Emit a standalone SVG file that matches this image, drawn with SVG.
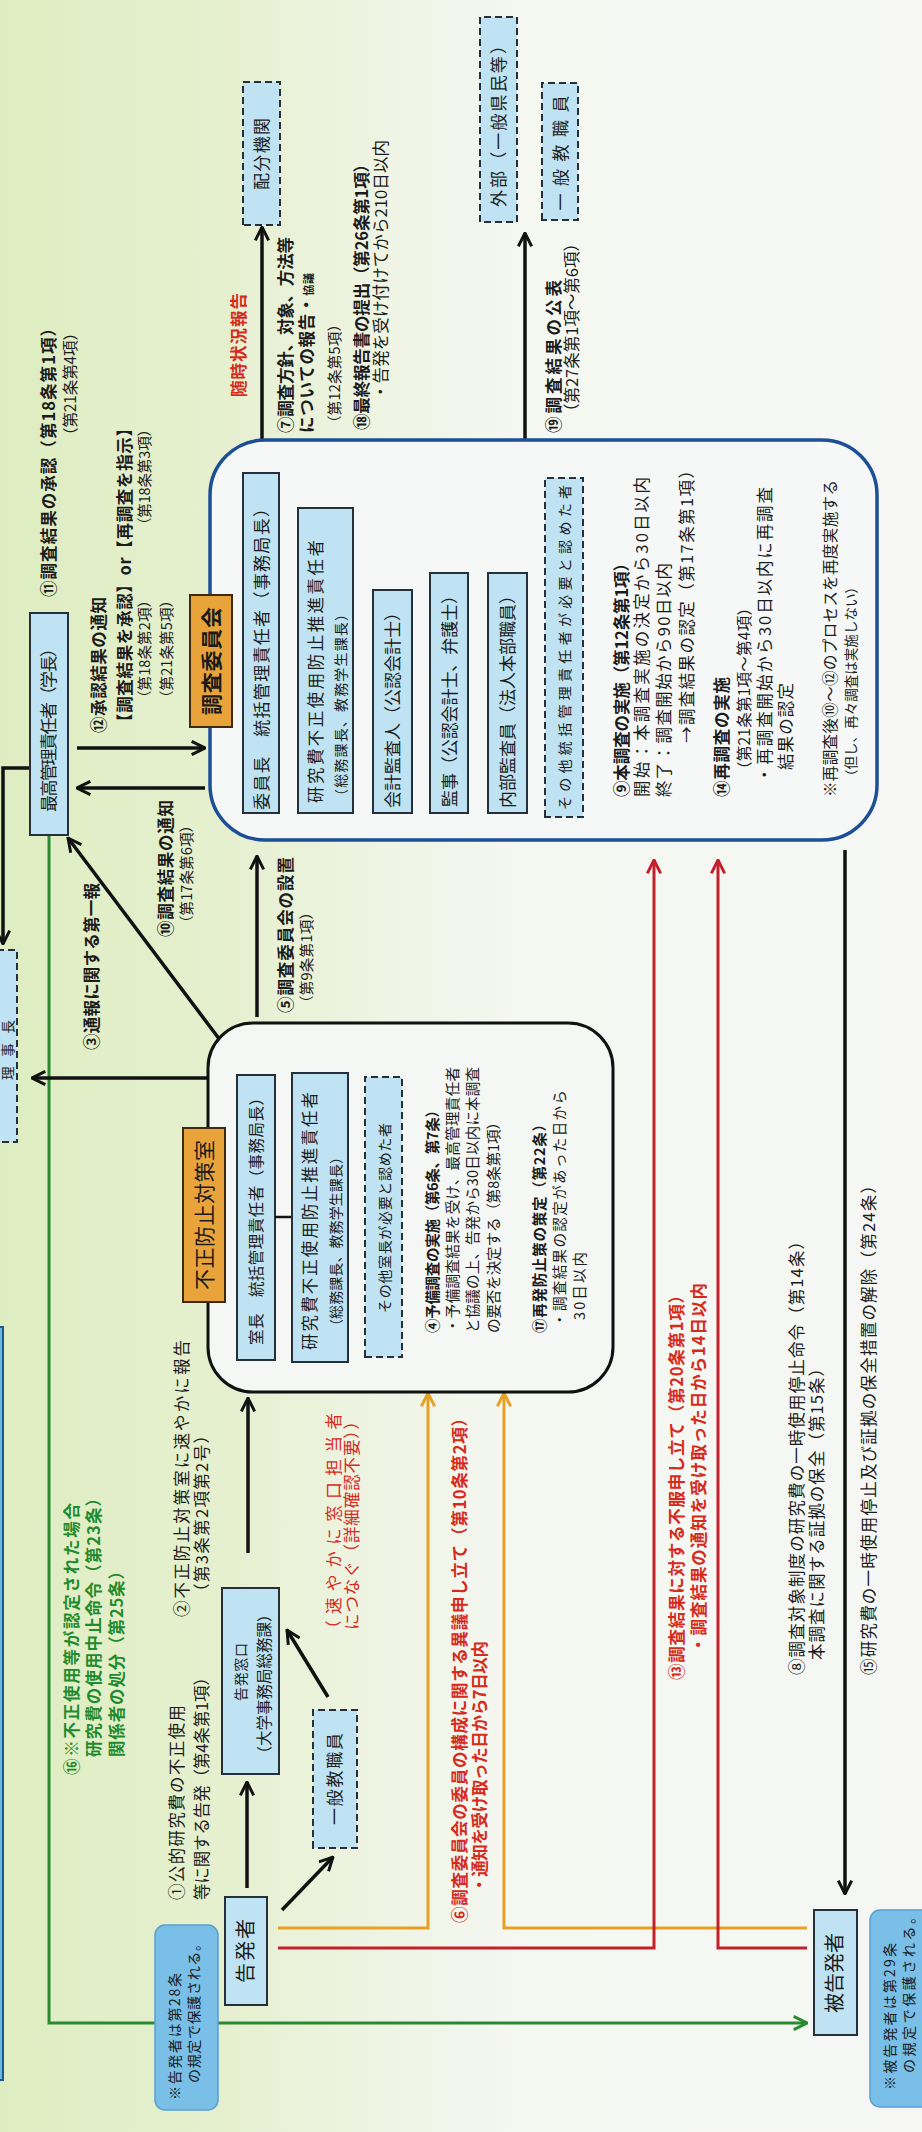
<svg xmlns="http://www.w3.org/2000/svg" width="922" height="2132" viewBox="0 0 922 2132">
<defs>
<linearGradient id="bg" gradientUnits="userSpaceOnUse" x1="0" y1="0" x2="922" y2="0">
<stop offset="0" stop-color="#deedc1"/>
<stop offset="0.25" stop-color="#e6f0d0"/>
<stop offset="0.42" stop-color="#eff4e4"/>
<stop offset="0.56" stop-color="#f5f7f1"/>
<stop offset="1" stop-color="#f6f7f5"/>
</linearGradient>
<marker id="ak" viewBox="0 0 12 12" refX="11" refY="6" markerWidth="16" markerHeight="16" markerUnits="userSpaceOnUse" orient="auto"><path d="M1,1 L11,6 L1,11" fill="none" stroke="#111" stroke-width="2.2"/></marker>
<marker id="ao" viewBox="0 0 12 12" refX="11" refY="6" markerWidth="16" markerHeight="16" markerUnits="userSpaceOnUse" orient="auto"><path d="M1,1 L11,6 L1,11" fill="none" stroke="#e6a024" stroke-width="2.2"/></marker>
<marker id="ar" viewBox="0 0 12 12" refX="11" refY="6" markerWidth="16" markerHeight="16" markerUnits="userSpaceOnUse" orient="auto"><path d="M1,1 L11,6 L1,11" fill="none" stroke="#c4202c" stroke-width="2.2"/></marker>
<marker id="ag" viewBox="0 0 12 12" refX="11" refY="6" markerWidth="16" markerHeight="16" markerUnits="userSpaceOnUse" orient="auto"><path d="M1,1 L11,6 L1,11" fill="none" stroke="#2a8a30" stroke-width="2.2"/></marker>
<style>
.t{font-family:"Noto Sans CJK JP","Noto Sans CJK SC",sans-serif;fill:#1b1b1b;font-size:16.5px}
.s13{font-size:13.5px}
.s14{font-size:14px}
.s145{font-size:14.5px}
.s15{font-size:15.5px}
.s17{font-size:17px}
.s20{font-size:20px}
.s21{font-size:21px}
.b{font-weight:bold}
.c{text-anchor:middle}
.red{fill:#d62a1c}
.grn{fill:#1f8b2c}
.box{fill:#bfe3f2;stroke:#26303a;stroke-width:2}
.dbox{fill:#bfe3f2;stroke:#26303a;stroke-width:2;stroke-dasharray:7 4}
.tab{fill:#e9a33b;stroke:#3d2a10;stroke-width:2}
.note{fill:#79bfe8;stroke:#5a9fcf;stroke-width:1.5}
.k{fill:none;stroke:#111;stroke-width:3.5}
.o{fill:none;stroke:#e6a024;stroke-width:3}
.r{fill:none;stroke:#c4202c;stroke-width:3}
.g{fill:none;stroke:#2a8a30;stroke-width:3}
</style>
</defs>
<rect x="0" y="0" width="922" height="2132" fill="url(#bg)"/>
<g transform="translate(0,2132) rotate(-90)">
<g id="connectors">
<polyline class="g" points="1297,49 109,49 109,807" marker-end="url(#ag)"/>
<polyline class="o" points="204,278 204,428 739,428" marker-end="url(#ao)"/>
<polyline class="o" points="204,807 204,504 739,504" marker-end="url(#ao)"/>
<polyline class="r" points="184,278 184,654 1272,654" marker-end="url(#ar)"/>
<polyline class="r" points="184,807 184,718 1272,718" marker-end="url(#ar)"/>
<line class="k" x1="244" y1="247" x2="350" y2="247" marker-end="url(#ak)"/>
<line class="k" x1="222" y1="282" x2="275" y2="333" marker-end="url(#ak)"/>
<line class="k" x1="435" y1="328" x2="502" y2="287" marker-end="url(#ak)"/>
<line class="k" x1="579" y1="248" x2="734" y2="248" marker-end="url(#ak)"/>
<line class="k" x1="1054" y1="208" x2="1054" y2="32" marker-end="url(#ak)"/>
<line class="k" x1="1092" y1="220" x2="1294" y2="68" marker-end="url(#ak)"/>
<line class="k" x1="1115" y1="257" x2="1276" y2="257" marker-end="url(#ak)"/>
<line class="k" x1="1384" y1="77" x2="1384" y2="205" marker-end="url(#ak)"/>
<line class="k" x1="1344" y1="205" x2="1344" y2="77" marker-end="url(#ak)"/>
<polyline class="k" points="1364,30 1364,3 1188,3" marker-end="url(#ak)"/>
<line class="k" x1="1692" y1="262" x2="1905" y2="262" marker-end="url(#ak)"/>
<line class="k" x1="1692" y1="525" x2="1899" y2="525" marker-end="url(#ak)"/>
<line class="k" x1="1282" y1="845" x2="238" y2="845" marker-end="url(#ak)"/>
</g>
<g id="left-box"><rect x="52" y="-20" width="753" height="23" fill="#6cb6e0" stroke="#1a5a90" stroke-width="2"/></g>
<g id="rijicho"><rect class="dbox" x="990" y="-20" width="192" height="37"/><text class="t s13 c" x="1082" y="13" textLength="60" lengthAdjust="spacing">理事長</text></g>
<g id="kokuhatsusha"><rect class="box" x="127" y="225" width="108" height="42"/><text class="t s20 c" x="181" y="253" textLength="64" lengthAdjust="spacing">告発者</text></g>
<g id="madoguchi"><rect class="box" x="358" y="222" width="186" height="57"/><text class="t s14 c" x="460" y="246" textLength="58" lengthAdjust="spacing">告発窓口</text><text class="t s15 c" x="448" y="270" textLength="155" lengthAdjust="spacing">（大学事務局総務課）</text></g>
<g id="ippan-1"><rect class="dbox" x="284" y="313" width="138" height="44"/><text class="t s17 c" x="353" y="341" textLength="92" lengthAdjust="spacing">一般教職員</text></g>
<g id="hikokuhatsusha"><rect class="box" x="97" y="814" width="125" height="43"/><text class="t s20 c" x="159" y="842" textLength="80" lengthAdjust="spacing">被告発者</text></g>
<g id="hogo-1"><rect class="note" x="22" y="155" width="185" height="63" rx="10"/><text class="t s14" x="32" y="180" textLength="127" lengthAdjust="spacing">※告発者は第28条</text><text class="t s14" x="49" y="199" textLength="146" lengthAdjust="spacing">の規定で保護される。</text></g>
<g id="hogo-2"><rect class="note" x="25" y="870" width="197" height="62" rx="10"/><text class="t s14" x="42" y="895" textLength="147" lengthAdjust="spacing">※被告発者は第29条</text><text class="t s14" x="59" y="914" textLength="163" lengthAdjust="spacing">の規定で保護される。</text></g>
<g id="saiko"><rect class="box" x="1297" y="30" width="222" height="38"/><text class="t s17" x="1320" y="55" textLength="172" lengthAdjust="spacing">最高管理責任者（学長）</text></g>
<g id="fusei">
<rect x="740" y="208" width="369" height="405" rx="45" fill="#f5f7f4" stroke="#111" stroke-width="3"/>
<rect class="tab" x="830" y="183" width="174" height="42"/>
<text class="t s21 c" x="917" y="212" textLength="150" lengthAdjust="spacing">不正防止対策室</text>
<rect class="box" x="772" y="237" width="285" height="38"/>
<text class="t s15" x="787" y="262" textLength="255" lengthAdjust="spacing">室長　統括管理責任者（事務局長）</text>
<line x1="915" y1="275" x2="915" y2="292" stroke="#111" stroke-width="2.5"/>
<rect class="box" x="770" y="292" width="289" height="56"/>
<text class="t" x="782" y="316" textLength="258" lengthAdjust="spacing">研究費不正使用防止推進責任者</text>
<text class="t s14" x="799" y="341" textLength="183" lengthAdjust="spacing">（総務課長、教務学生課長）</text>
<rect class="dbox" x="775" y="365" width="280" height="37"/>
<text class="t s14" x="819" y="390" textLength="190" lengthAdjust="spacing">その他室長が必要と認めた者</text>
<text class="t s145 b" x="799" y="438" textLength="230" lengthAdjust="spacing">④予備調査の実施（第6条、第7条）</text>
<text class="t s145" x="799" y="458" textLength="266" lengthAdjust="spacing">・予備調査結果を受け、最高管理責任者</text>
<text class="t s145" x="799" y="478" textLength="266" lengthAdjust="spacing">と協議の上、告発から30日以内に本調査</text>
<text class="t s145" x="799" y="499" textLength="218" lengthAdjust="spacing">の要否を決定する（第8条第1項）</text>
<text class="t s145 b" x="799" y="545" textLength="216" lengthAdjust="spacing">⑰再発防止策の策定（第22条）</text>
<text class="t s145" x="805" y="565" textLength="237" lengthAdjust="spacing">・調査結果の認定があった日から</text>
<text class="t s145" x="812" y="585" textLength="68" lengthAdjust="spacing">30日以内</text>
</g>
<g id="chosa">
<rect x="1292" y="210" width="400" height="667" rx="55" fill="#f6f8f7" stroke="#1d4f96" stroke-width="3.5"/>
<rect class="tab" x="1405" y="190" width="132" height="42"/>
<text class="t s21 b c" x="1471" y="219" textLength="108" lengthAdjust="spacing">調査委員会</text>
<rect class="box" x="1319" y="243" width="340" height="36"/>
<text class="t s17" x="1322" y="268" textLength="310" lengthAdjust="spacing">委員長　統括管理責任者（事務局長）</text>
<rect class="box" x="1319" y="298" width="305" height="55"/>
<text class="t" x="1329" y="322" textLength="263" lengthAdjust="spacing">研究費不正使用防止推進責任者</text>
<text class="t s14" x="1329" y="346" textLength="196" lengthAdjust="spacing">（総務課長、教務学生課長）</text>
<rect class="box" x="1319" y="373" width="223" height="39"/>
<text class="t s17" x="1324" y="399" textLength="204" lengthAdjust="spacing">会計監査人（公認会計士）</text>
<rect class="box" x="1319" y="430" width="240" height="38"/>
<text class="t s17" x="1325" y="456" textLength="220" lengthAdjust="spacing">監事（公認会計士、弁護士）</text>
<rect class="box" x="1319" y="488" width="240" height="39"/>
<text class="t s17" x="1324" y="514" textLength="221" lengthAdjust="spacing">内部監査員（法人本部職員）</text>
<rect class="dbox" x="1315" y="545" width="339" height="38"/>
<text class="t s14" x="1322" y="570" textLength="325" lengthAdjust="spacing">その他統括管理責任者が必要と認めた者</text>
<text class="t b" x="1335" y="628" textLength="242" lengthAdjust="spacing">⑨本調査の実施（第12条第1項）</text>
<text class="t" x="1335" y="648" textLength="320" lengthAdjust="spacing">開始：本調査実施の決定から30日以内</text>
<text class="t" x="1335" y="670" textLength="234" lengthAdjust="spacing">終了：調査開始から90日以内</text>
<text class="t" x="1389" y="693" textLength="281" lengthAdjust="spacing">→調査結果の認定（第17条第1項）</text>
<text class="t b" x="1335" y="728" textLength="120" lengthAdjust="spacing">⑭再調査の実施</text>
<text class="t s15" x="1355" y="750" textLength="177" lengthAdjust="spacing">（第21条第1項～第4項）</text>
<text class="t" x="1349" y="771" textLength="296" lengthAdjust="spacing">・再調査開始から30日以内に再調査</text>
<text class="t" x="1362" y="792" textLength="87" lengthAdjust="spacing">結果の認定</text>
<text class="t s15" x="1335" y="836" textLength="317" lengthAdjust="spacing">※再調査後⑩～⑫のプロセスを再度実施する</text>
<text class="t s13" x="1349" y="856" textLength="203" lengthAdjust="spacing">（但し、再々調査は実施しない）</text>
</g>
<g id="haibun"><rect class="dbox" x="1907" y="243" width="143" height="37"/><text class="t s17 c" x="1978" y="268" textLength="72" lengthAdjust="spacing">配分機関</text></g>
<g id="gaibu"><rect class="dbox" x="1910" y="480" width="205" height="37"/><text class="t s17 c" x="2010" y="505" textLength="170" lengthAdjust="spacing">外部（一般県民等）</text></g>
<g id="ippan-2"><rect class="dbox" x="1912" y="542" width="137" height="36"/><text class="t s17 c" x="1979" y="567" textLength="115" lengthAdjust="spacing">一般教職員</text></g>
<g id="labels">
<text class="t" x="232" y="183" textLength="195" lengthAdjust="spacing">①公的研究費の不正使用</text>
<text class="t" x="232" y="208" textLength="231" lengthAdjust="spacing">等に関する告発（第4条第1項）</text>
<text class="t b grn" x="357" y="78" textLength="272" lengthAdjust="spacing">⑯※不正使用等が認定された場合</text>
<text class="t b grn" x="375" y="100" textLength="267" lengthAdjust="spacing">研究費の使用中止命令（第23条）</text>
<text class="t b grn" x="375" y="123" textLength="194" lengthAdjust="spacing">関係者の処分（第25条）</text>
<text class="t" x="515" y="188" textLength="277" lengthAdjust="spacing">②不正防止対策室に速やかに報告</text>
<text class="t" x="532" y="208" textLength="173" lengthAdjust="spacing">（第3条第2項第2号）</text>
<text class="t red" x="495" y="340" textLength="224" lengthAdjust="spacing">（速やかに窓口担当者</text>
<text class="t red" x="502" y="358" textLength="217" lengthAdjust="spacing">につなぐ（詳細確認不要））</text>
<text class="t b red" x="209" y="466" textLength="513" lengthAdjust="spacing">⑥調査委員会の委員の構成に関する異議申し立て（第10条第2項）</text>
<text class="t b red" x="239" y="486" textLength="252" lengthAdjust="spacing">・通知を受け取った日から7日以内</text>
<text class="t b red" x="452" y="683" textLength="393" lengthAdjust="spacing">⑬調査結果に対する不服申し立て（第20条第1項）</text>
<text class="t b red" x="479" y="705" textLength="370" lengthAdjust="spacing">・調査結果の通知を受け取った日から14日以内</text>
<text class="t" x="457" y="803" textLength="442" lengthAdjust="spacing">⑧調査対象制度の研究費の一時使用停止命令（第14条）</text>
<text class="t" x="472" y="823" textLength="300" lengthAdjust="spacing">本調査に関する証拠の保全（第15条）</text>
<text class="t" x="457" y="875" textLength="498" lengthAdjust="spacing">⑮研究費の一時使用停止及び証拠の保全措置の解除（第24条）</text>
<text class="t b" x="1082" y="98" textLength="167" lengthAdjust="spacing">③通報に関する第一報</text>
<text class="t b" x="1195" y="172" textLength="137" lengthAdjust="spacing">⑩調査結果の通知</text>
<text class="t s145" x="1202" y="192" textLength="112" lengthAdjust="spacing">（第17条第6項）</text>
<text class="t b" x="1119" y="292" textLength="156" lengthAdjust="spacing">⑤調査委員会の設置</text>
<text class="t s145" x="1122" y="312" textLength="105" lengthAdjust="spacing">（第9条第1項）</text>
<text class="t b" x="1399" y="105" textLength="136" lengthAdjust="spacing">⑫承認結果の通知</text>
<text class="t b" x="1402" y="131" textLength="310" lengthAdjust="spacing">【調査結果を承認】or【再調査を指示】</text>
<text class="t s145" x="1427" y="150" textLength="112" lengthAdjust="spacing">（第18条第2項）</text>
<text class="t s145" x="1600" y="150" textLength="110" lengthAdjust="spacing">（第18条第3項）</text>
<text class="t s145" x="1427" y="172" textLength="112" lengthAdjust="spacing">（第21条第5項）</text>
<text class="t b" x="1535" y="55" textLength="277" lengthAdjust="spacing">⑪調査結果の承認（第18条第1項）</text>
<text class="t s15" x="1689" y="76" textLength="118" lengthAdjust="spacing">（第21条第4項）</text>
<text class="t b red" x="1735" y="245" textLength="104" lengthAdjust="spacing">随時状況報告</text>
<text class="t b" x="1699" y="292" textLength="196" lengthAdjust="spacing">⑦調査方針、対象、方法等</text>
<text class="t b" x="1699" y="313" textLength="160" lengthAdjust="spacing">についての報告・<tspan font-size="11">協議</tspan></text>
<text class="t s145" x="1702" y="340" textLength="113" lengthAdjust="spacing">（第12条第5項）</text>
<text class="t b" x="1702" y="368" textLength="274" lengthAdjust="spacing">⑱最終報告書の提出（第26条第1項）</text>
<text class="t" x="1732" y="387" textLength="260" lengthAdjust="spacing">・告発を受け付けてから210日以内</text>
<text class="t b" x="1699" y="560" textLength="153" lengthAdjust="spacing">⑲調査結果の公表</text>
<text class="t" x="1712" y="578" textLength="185" lengthAdjust="spacing">（第27条第1項～第6項）</text>
</g>
</g>
</svg>
